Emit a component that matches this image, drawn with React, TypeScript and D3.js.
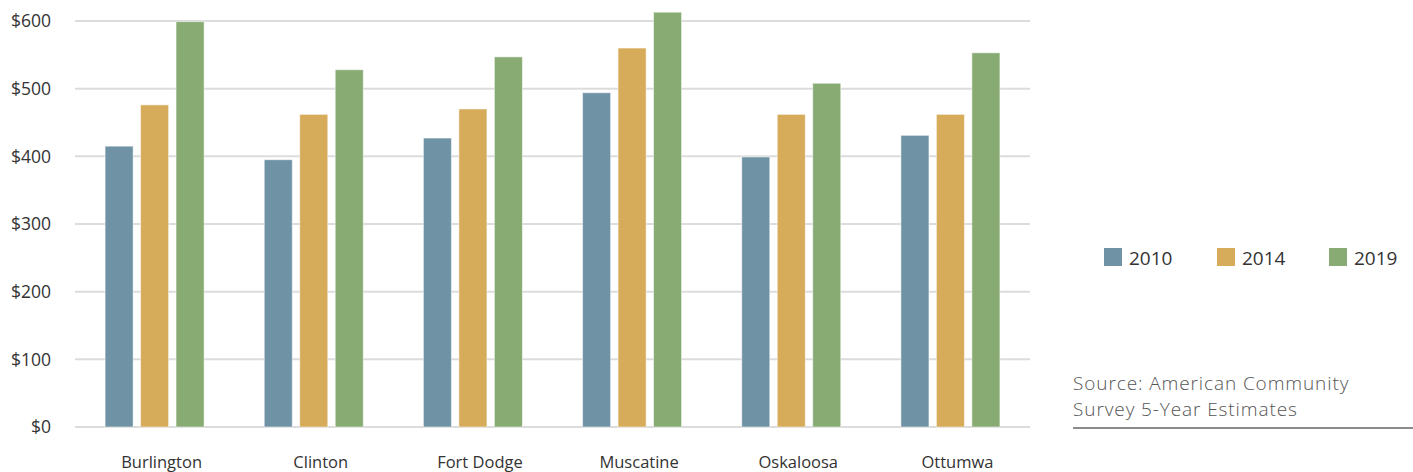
import { scaleBand, scaleLinear } from 'd3'

const cities = ['Burlington', 'Clinton', 'Fort Dodge', 'Muscatine', 'Oskaloosa', 'Ottumwa']
const years = ['2010', '2014', '2019']
const rent2010 = [415, 395, 427, 494, 399, 431]
const rent2014 = [476, 462, 470, 560, 462, 462]
const rent2019 = [599, 528, 547, 613, 508, 553]
const yTicks = [0, 100, 200, 300, 400, 500, 600]
const colors = ['#6f92a5', '#d6ab59', '#87ab72']

const font = '"Open Sans", sans-serif'

export default function App() {
  const width = 1413
  const height = 472
  const series = [rent2010, rent2014, rent2019]

  const x = scaleBand().domain(cities).range([75, 1030]).paddingInner(0).paddingOuter(0)
  const inner = scaleBand().domain(years).range([0, 99]).paddingInner(0.21)
  const y = scaleLinear().domain([0, 600]).range([427, 21])
  const groupOffset = (x.bandwidth() - 99) / 2

  const legendX = [1104, 1217, 1329]

  return (
    <svg
      width={width}
      height={height}
      style={{ position: 'absolute', left: 0, top: 0, background: '#fff' }}
      fontFamily={font}
    >
      {yTicks.map((t) => (
        <g key={t}>
          <line x1={75} x2={1030} y1={y(t)} y2={y(t)} stroke="#dcdcdc" strokeWidth={2} />
          <text x={51} y={y(t)} dy="0.36em" textAnchor="end" fontSize={17.5} fill="#333">
            ${t}
          </text>
        </g>
      ))}

      {cities.map((c, i) => (
        <g key={c} transform={`translate(${(x(c) ?? 0) + groupOffset},0)`}>
          {years.map((yr, j) => (
            <rect
              key={yr}
              x={inner(yr)}
              y={y(series[j][i])}
              width={inner.bandwidth()}
              height={y(0) - y(series[j][i])}
              fill={colors[j]}
              stroke="#ffffff"
              strokeOpacity={0.5}
              strokeWidth={1}
            />
          ))}
        </g>
      ))}

      {cities.map((c) => (
        <text
          key={c}
          x={(x(c) ?? 0) + x.bandwidth() / 2 + 7}
          y={468}
          textAnchor="middle"
          fontSize={16.5}
          fill="#333"
        >
          {c}
        </text>
      ))}

      {years.map((yr, j) => (
        <g key={yr} transform={`translate(${legendX[j]},248)`}>
          <rect width={18} height={18} fill={colors[j]} />
          <text x={25} y={17} fontSize={19} fill="#333">
            {yr}
          </text>
        </g>
      ))}

      <g fontSize={19} fontWeight={300} fill="#555" letterSpacing={0.9}>
        <text x={1073} y={390}>
          Source: American Community
        </text>
        <text x={1073} y={416}>
          Survey 5-Year Estimates
        </text>
      </g>
      <line x1={1073} x2={1413} y1={428} y2={428} stroke="#8c8c8c" strokeWidth={2} />
    </svg>
  )
}
